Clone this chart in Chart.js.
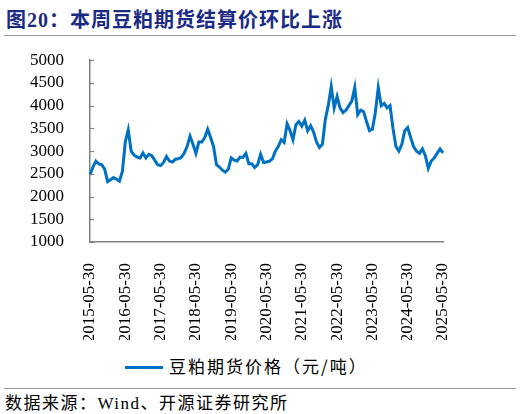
<!DOCTYPE html>
<html>
<head>
<meta charset="utf-8">
<script src="https://cdn.jsdelivr.net/npm/chart.js@4.4.1/dist/chart.umd.min.js"></script>
<style>
  body { margin: 0; background: #fff; width: 520px; height: 414px; position: relative; overflow: hidden; }
  #title { position: absolute; left: 6px; top: 4px; font: bold 20px "Liberation Serif", "Noto Sans CJK SC", serif; letter-spacing: 1px; color: #1B2A84; white-space: nowrap; }
  .rule { position: absolute; left: 4px; width: 512px; height: 0; border-top: 1.5px solid #9a9a9a; }
  #box { position: absolute; left: 0; top: 32px; width: 520px; height: 308px; }
  #box canvas { display: block; }
  #legend { position: absolute; left: 125px; top: 353px; font: 17px "Noto Sans CJK SC", sans-serif; letter-spacing: 2px; color: #000; white-space: nowrap; }
  #legend span.swatch { display: inline-block; width: 38px; height: 3px; background: #0070C0; vertical-align: middle; margin-right: 6px; position: relative; top: -1px; }
  #source { position: absolute; left: 5px; top: 389px; font: 17px "Liberation Serif", "Noto Sans CJK SC", serif; letter-spacing: 1.5px; color: #000; white-space: nowrap; }
</style>
</head>
<body>
<div id="title">图20：本周豆粕期货结算价环比上涨</div>
<div class="rule" style="top:35px"></div>
<div id="box"><canvas id="chart" width="520" height="308"></canvas></div>
<div id="legend"><span class="swatch"></span>豆粕期货价格（元/吨）</div>
<div class="rule" style="top:388px"></div>
<div id="source">数据来源：Wind、开源证券研究所</div>
<script>
// month-end readings, 2015-05 .. 2025-05
const startYear = 2015;
const startMonth = 5;
const tickLabels = ['2015-05-30', '2016-05-30', '2017-05-30', '2018-05-30', '2019-05-30', '2020-05-30',
  '2021-05-30', '2022-05-30', '2023-05-30', '2024-05-30', '2025-05-30'];
const yTicks = [1000, 1500, 2000, 2500, 3000, 3500, 4000, 4500, 5000];
const prices = [
  2480, 2650, 2780, 2720, 2700, 2600, 2330, 2370, 2420, 2380, 2340, 2550,
  3200, 3470, 3000, 2910, 2870, 2850, 2960, 2850, 2930, 2900, 2800, 2700,
  2680, 2750, 2880, 2780, 2760, 2820, 2830, 2860, 2950, 3100, 3330, 3150,
  2950, 3200, 3200, 3300, 3480, 3300, 3100, 2700, 2650, 2580, 2540, 2600,
  2850, 2800, 2780, 2870, 2860, 2950, 2720, 2720, 2640, 2700, 2930, 2750,
  2760, 2780, 2830, 3000, 3100, 3250, 3190, 3600, 3450, 3250, 3580, 3650,
  3550, 3680, 3450, 3560, 3420, 3200, 3080, 3150, 3700, 4000, 4420, 3950,
  4200, 3950, 3850, 3900, 4000, 4100, 4400, 3800, 3900, 3870, 3650, 3450,
  3480, 3850, 4400, 4000, 4050, 3950, 4000, 3500, 3100, 3000, 3150, 3450,
  3520, 3300, 3100, 3000, 2950, 3050, 2900, 2620, 2780, 2850, 2950, 3050,
  2960
];

const labels = prices.map((v, i) => {
  const m = startMonth - 1 + i;
  const y = startYear + Math.floor(m / 12);
  const mm = String(m % 12 + 1).padStart(2, '0');
  return y + '-' + mm + '-30';
});

// short inward tick marks on the value axis
const innerTicks = {
  id: 'innerTicks',
  afterDraw(chart) {
    const c = chart.ctx, ys = chart.scales.y;
    c.save();
    c.strokeStyle = '#808080';
    c.lineWidth = 1.2;
    yTicks.forEach(v => {
      const py = Math.round(ys.getPixelForValue(v)) + 0.5;
      c.beginPath();
      c.moveTo(ys.right, py);
      c.lineTo(ys.right + 4, py);
      c.stroke();
    });
    c.restore();
  }
};

new Chart(document.getElementById('chart'), {
  type: 'line',
  data: {
    labels: labels,
    datasets: [{
      label: '豆粕期货价格（元/吨）',
      data: prices,
      borderColor: '#0070C0',
      borderWidth: 3,
      pointRadius: 0,
      tension: 0,
      fill: false
    }]
  },
  plugins: [innerTicks],
  options: {
    responsive: false,
    animation: false,
    events: [],
    layout: { padding: { top: 11, right: 77, bottom: 0, left: 0 } },
    plugins: { legend: { display: false }, tooltip: { enabled: false } },
    scales: {
      x: {
        type: 'category',
        grid: { display: false },
        border: { display: true, color: '#808080', width: 1.5 },
        ticks: {
          autoSkip: false,
          minRotation: 90,
          maxRotation: 90,
          padding: 13,
          color: '#000',
          font: { family: 'Liberation Serif', size: 17 },
          callback: function (val) {
            const lab = this.getLabelForValue(val);
            return tickLabels.includes(lab) ? lab : null;
          }
        },
        afterFit(scale) { scale.height = 98; }
      },
      y: {
        min: 1000,
        max: 5000,
        grid: { display: false },
        border: { display: true, color: '#808080', width: 1.5 },
        afterBuildTicks(scale) { scale.ticks = yTicks.map(v => ({ value: v })); },
        ticks: {
          autoSkip: false,
          padding: 18,
          color: '#000',
          font: { family: 'Liberation Serif', size: 17 },
          callback: v => String(v)
        },
        afterFit(scale) { scale.width = 90; }
      }
    }
  }
});
</script>
</body>
</html>
